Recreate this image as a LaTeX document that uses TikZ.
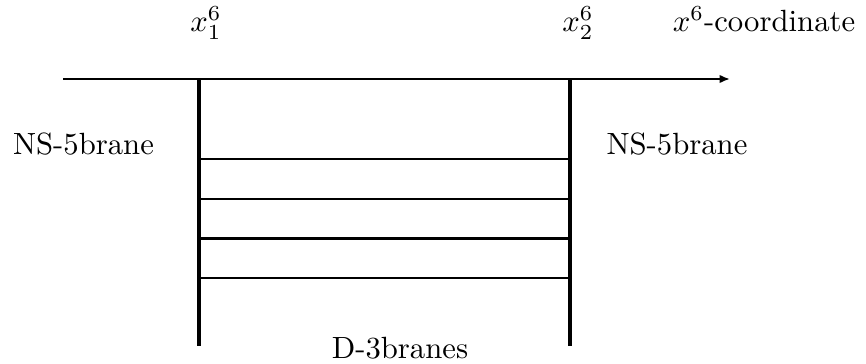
\documentclass[tikz,border=0pt]{standalone}
\usetikzlibrary{arrows.meta}
\tikzset{
  nsbrane/.style={line width=1.2pt},
  dbrane/.style={line width=0.8pt},
  axisline/.style={line width=0.65pt,-{Latex[length=3.4pt,width=2.8pt]}},
  lbl/.style={anchor=base,inner sep=0pt}
}
\begin{document}
\begin{tikzpicture}[x=0.3257pt,y=-0.3257pt]
\useasboundingbox (0,0) rectangle (866,364);
% axis
\coordinate (axstart) at (63,79);
\coordinate (axend) at (730,79);
\draw[axisline] (axstart) -- (axend);
% NS-5branes
\coordinate (nsAtop) at (199,79);
\coordinate (nsAbot) at (199,346);
\coordinate (nsBtop) at (570,79);
\coordinate (nsBbot) at (570,346);
\draw[nsbrane] (nsAtop) -- (nsAbot) (nsBtop) -- (nsBbot);
% D-3branes
\foreach \i/\y in {1/159, 2/199, 3/238.5, 4/278}{
  \coordinate (dl\i) at (199,\y);
  \coordinate (dr\i) at (570,\y);
  \draw[dbrane] (dl\i) -- (dr\i);
}
% labels
\node[lbl] (xone) at (206,32) {$x^6_1$};
\node[lbl] (xtwo) at (578,32) {$x^6_2$};
\node[lbl] (xaxis) at (764,32) {$x^6$-coordinate};
\node[lbl] (nsleft) at (83.5,155) {NS-5brane};
\node[lbl] (nsright) at (677,155) {NS-5brane};
\node[lbl] (dlabel) at (400,358) {D-3branes};
\end{tikzpicture}
\end{document}
